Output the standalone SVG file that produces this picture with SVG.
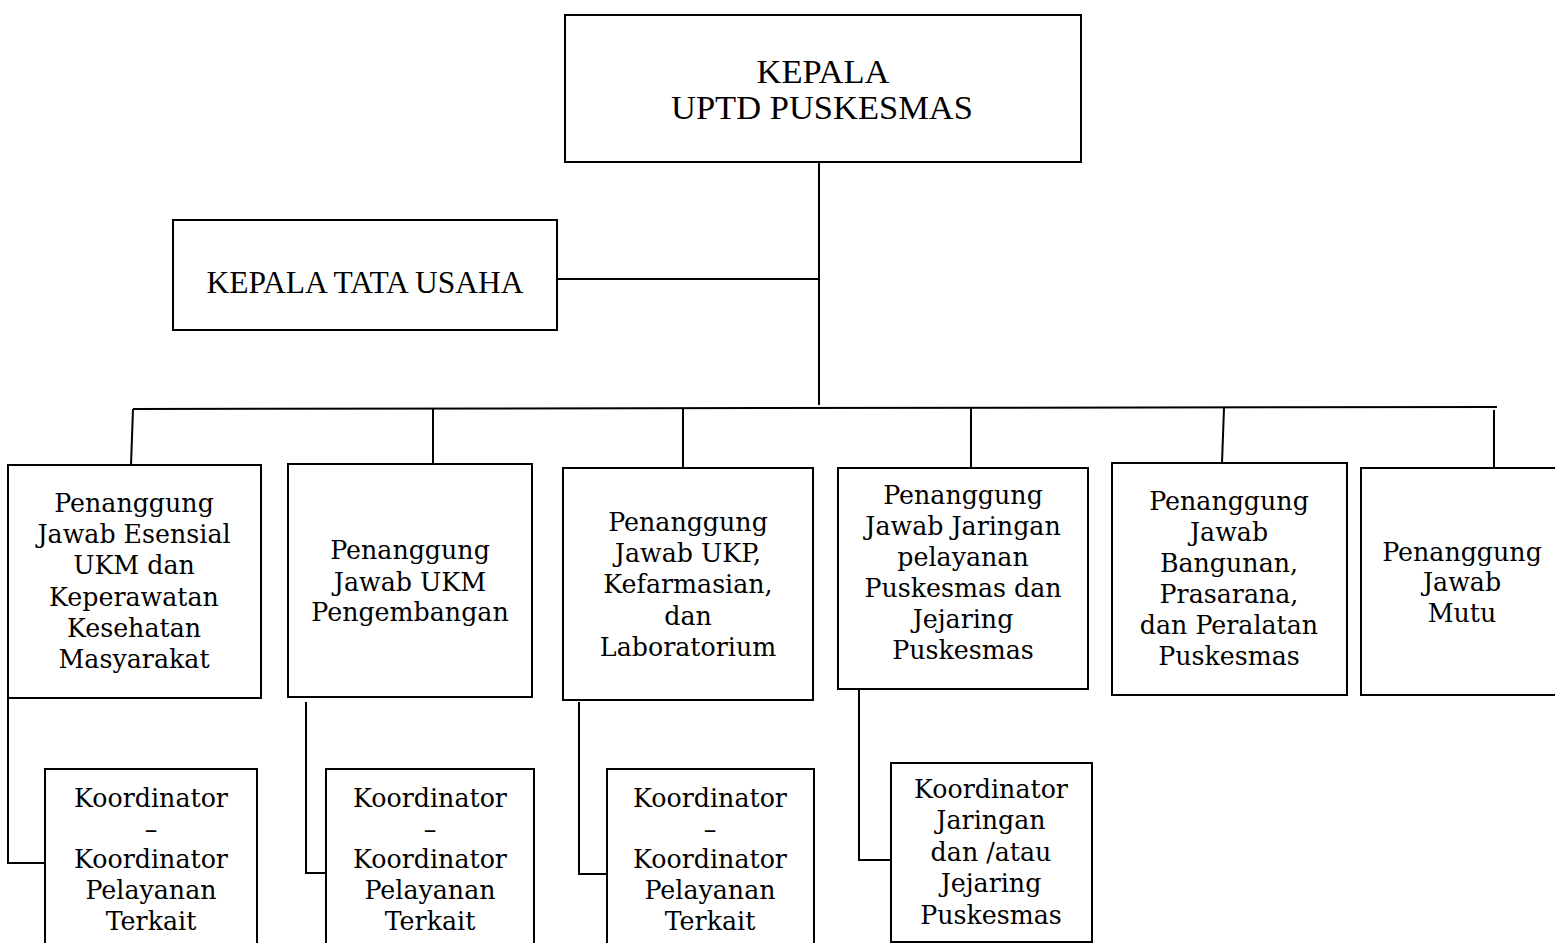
<svg xmlns="http://www.w3.org/2000/svg" width="1555" height="943" viewBox="0 0 1555 943">
<style>
.box{fill:#fff;stroke:#000;stroke-width:2}
.ln{fill:none;stroke:#000;stroke-width:2}
.t{font-family:"DejaVu Serif","Liberation Serif",serif;font-size:25.3px;fill:#000;text-anchor:middle}
.h{font-family:"Liberation Serif","Times New Roman",serif;fill:#000;text-anchor:middle}
</style>
<rect width="1555" height="943" fill="#fff"/>
<g id="connectors">
<path class="ln" d="M819 162V405"/>
<path class="ln" d="M557 279H819"/>
<path class="ln" d="M133 409L1497 407"/>
<path class="ln" d="M133 409L131 465"/>
<path class="ln" d="M433 409V464"/>
<path class="ln" d="M683 409V468"/>
<path class="ln" d="M971 408V468"/>
<path class="ln" d="M1224 408L1222 463"/>
<path class="ln" d="M1494 410V468"/>
<path class="ln" d="M8 698V863H45"/>
<path class="ln" d="M306 702V873H326"/>
<path class="ln" d="M579 702V874H607"/>
<path class="ln" d="M859 689V860H891"/>
</g>
<g id="kepala">
<rect class="box" x="565" y="15" width="516" height="147"/>
<text class="h" font-size="34.5" x="823" y="83">KEPALA</text>
<text class="h" font-size="34.5" x="822" y="119">UPTD PUSKESMAS</text>
</g>
<g id="tatausaha">
<rect class="box" x="173" y="220" width="384" height="110"/>
<text class="h" font-size="31.5" x="365" y="293">KEPALA TATA USAHA</text>
</g>
<g id="pj-esensial">
<rect class="box" x="8" y="465" width="253" height="233"/>
<text class="t"><tspan x="134" y="512">Penanggung</tspan><tspan x="134" y="543">Jawab Esensial</tspan><tspan x="134" y="574">UKM dan</tspan><tspan x="134" y="606">Keperawatan</tspan><tspan x="134" y="637">Kesehatan</tspan><tspan x="134" y="668">Masyarakat</tspan></text>
</g>
<g id="pj-pengembangan">
<rect class="box" x="288" y="464" width="244" height="233"/>
<text class="t"><tspan x="410" y="559">Penanggung</tspan><tspan x="410" y="591">Jawab UKM</tspan><tspan x="410" y="621">Pengembangan</tspan></text>
</g>
<g id="pj-ukp">
<rect class="box" x="563" y="468" width="250" height="232"/>
<text class="t"><tspan x="688" y="531">Penanggung</tspan><tspan x="688" y="562">Jawab UKP,</tspan><tspan x="688" y="593">Kefarmasian,</tspan><tspan x="688" y="625">dan</tspan><tspan x="688" y="656">Laboratorium</tspan></text>
</g>
<g id="pj-jaringan">
<rect class="box" x="838" y="468" width="250" height="221"/>
<text class="t"><tspan x="963" y="504">Penanggung</tspan><tspan x="963" y="535">Jawab Jaringan</tspan><tspan x="963" y="566">pelayanan</tspan><tspan x="963" y="597">Puskesmas dan</tspan><tspan x="963" y="628">Jejaring</tspan><tspan x="963" y="659">Puskesmas</tspan></text>
</g>
<g id="pj-bangunan">
<rect class="box" x="1112" y="463" width="235" height="232"/>
<text class="t"><tspan x="1229" y="510">Penanggung</tspan><tspan x="1229" y="541">Jawab</tspan><tspan x="1229" y="572">Bangunan,</tspan><tspan x="1229" y="603">Prasarana,</tspan><tspan x="1229" y="634">dan Peralatan</tspan><tspan x="1229" y="665">Puskesmas</tspan></text>
</g>
<g id="pj-mutu">
<rect class="box" x="1361" y="468" width="200" height="227"/>
<text class="t"><tspan x="1462" y="561">Penanggung</tspan><tspan x="1462" y="591">Jawab</tspan><tspan x="1462" y="622">Mutu</tspan></text>
</g>
<g id="koord-1">
<rect class="box" x="45" y="769" width="212" height="180"/>
<text class="t"><tspan x="151" y="807">Koordinator</tspan><tspan x="151" y="838">–</tspan><tspan x="151" y="868">Koordinator</tspan><tspan x="151" y="899">Pelayanan</tspan><tspan x="151" y="930">Terkait</tspan></text>
</g>
<g id="koord-2">
<rect class="box" x="326" y="769" width="208" height="180"/>
<text class="t"><tspan x="430" y="807">Koordinator</tspan><tspan x="430" y="838">–</tspan><tspan x="430" y="868">Koordinator</tspan><tspan x="430" y="899">Pelayanan</tspan><tspan x="430" y="930">Terkait</tspan></text>
</g>
<g id="koord-3">
<rect class="box" x="607" y="769" width="207" height="180"/>
<text class="t"><tspan x="710" y="807">Koordinator</tspan><tspan x="710" y="838">–</tspan><tspan x="710" y="868">Koordinator</tspan><tspan x="710" y="899">Pelayanan</tspan><tspan x="710" y="930">Terkait</tspan></text>
</g>
<g id="koord-4">
<rect class="box" x="891" y="763" width="201" height="179"/>
<text class="t"><tspan x="991" y="798">Koordinator</tspan><tspan x="991" y="829">Jaringan</tspan><tspan x="991" y="861">dan /atau</tspan><tspan x="991" y="892">Jejaring</tspan><tspan x="991" y="924">Puskesmas</tspan></text>
</g>
</svg>
